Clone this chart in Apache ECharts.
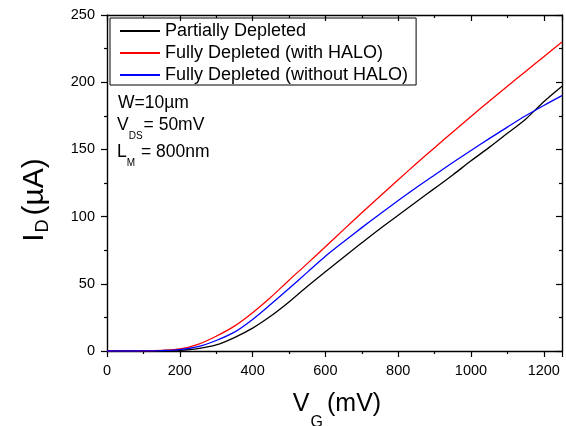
<!DOCTYPE html>
<html>
<head>
<meta charset="utf-8">
<script src="https://cdn.jsdelivr.net/npm/echarts@6/dist/echarts.min.js"></script>
<style>
  html, body { margin: 0; padding: 0; background: #fff; }
  #main { width: 566px; height: 426px; }
</style>
</head>
<body>
<div id="main"></div>
<script>
// gate voltage (mV)
var vg = [0, 50, 100, 150, 200, 250, 300, 350, 400, 450, 500, 550, 600,
          650, 700, 750, 800, 850, 900, 950, 1000, 1050, 1100, 1150, 1200, 1250];
// drain current (uA)
var idPartial = [0, 0, 0, 0.1, 0.5, 1.8, 4.5, 10, 17, 26, 36.5, 48, 59,
                 69.8, 80.5, 91, 101, 111, 121, 131, 141.5, 151.5, 162, 172.5, 185.5, 197];
var idWithHalo = [0, 0.05, 0.1, 0.5, 1.5, 5, 11, 18.5, 28.5, 40, 52.7, 65, 77.5,
                  90.3, 102.8, 115.2, 127.4, 139.5, 151.3, 163, 174.5, 185.8, 197, 208, 219, 230];
var idWithoutHalo = [0, 0, 0.05, 0.3, 1, 3.2, 7.8, 14, 23.5, 34.8, 46.5, 58.5, 70.5,
                     81.3, 91.8, 102, 112, 121.7, 131, 140.2, 149.2, 158, 166.6, 175, 182.7, 190];
var seriesNames = ['Partially Depleted', 'Fully Depleted (with HALO)', 'Fully Depleted (without HALO)'];
var seriesColors = ['#000000', '#ff0000', '#0000ff'];

var FONT = "'Liberation Sans', Arial, sans-serif";

function pairs(ys) {
    return vg.map(function (x, i) { return [x, ys[i]]; });
}

var myChart = echarts.init(document.getElementById('main'));

function axisX(pos, inside) {
    return {
        type: 'value', position: pos, min: 0, max: 1250, interval: 200,
        axisLine: { show: true, onZero: false, lineStyle: { color: '#000', width: 1.4 } },
        axisTick: { show: true, inside: inside, length: 6, lineStyle: { color: '#000', width: 1.2 } },
        minorTick: { show: true, splitNumber: 2, length: 3, lineStyle: { color: '#000', width: 1.2 } },
        axisLabel: {
            show: !inside, color: '#000', fontSize: 14.5, fontFamily: FONT, margin: 12,
            formatter: function (v) { return v % 200 === 0 ? String(v) : ''; }
        },
        splitLine: { show: false }
    };
}
function axisY(pos, inside) {
    return {
        type: 'value', position: pos, min: 0, max: 250, interval: 50,
        axisLine: { show: true, onZero: false, lineStyle: { color: '#000', width: 1.4 } },
        axisTick: { show: true, inside: inside, length: 6, lineStyle: { color: '#000', width: 1.2 } },
        minorTick: { show: true, splitNumber: 2, length: 3, lineStyle: { color: '#000', width: 1.2 } },
        axisLabel: { show: !inside, color: '#000', fontSize: 14.5, fontFamily: FONT, margin: 12 },
        splitLine: { show: false }
    };
}

var subRich = function (big, small, lh) {
    return {
        m: { fontSize: big, fontFamily: FONT, lineHeight: big },
        s: { fontSize: small, fontFamily: FONT, lineHeight: lh, verticalAlign: 'bottom', padding: [0, 1, 0, 0] }
    };
};

var option = {
    animation: false,
    backgroundColor: '#fff',
    grid: { left: 107, right: 4, top: 15, bottom: 75 },
    xAxis: [axisX('bottom', false), axisX('top', true)],
    yAxis: [axisY('left', false), axisY('right', true)],
    legend: {
        data: seriesNames,
        orient: 'vertical',
        left: 110, top: 18,
        padding: [4, 8, 1, 9],
        itemGap: 4,
        itemWidth: 40,
        itemHeight: 18,
        borderColor: '#000',
        borderWidth: 1,
        itemStyle: { opacity: 0 },
        textStyle: { color: '#000', fontSize: 18, fontFamily: FONT }
    },
    graphic: [
        {
            type: 'text', x: 118, y: 94,
            style: { text: 'W=10\u00b5m', font: '17.5px ' + FONT, fill: '#000', verticalAlign: 'top' }
        },
        {
            type: 'text', x: 117, y: 109,
            style: { text: '{m|V}{s|DS}{m|= 50mV}', fill: '#000', verticalAlign: 'top', rich: subRich(17.5, 10, 32) }
        },
        {
            type: 'text', x: 117, y: 136,
            style: { text: '{m|L}{s|M}{m| = 800nm}', fill: '#000', verticalAlign: 'top', rich: subRich(17.5, 10, 32) }
        },
        {
            type: 'text', x: 337, y: 377,
            style: {
                text: '{m|V}{s|G}{m|(mV)}', fill: '#000', align: 'center', verticalAlign: 'top',
                rich: {
                    m: { fontSize: 25, fontFamily: FONT, lineHeight: 25 },
                    s: { fontSize: 16, fontFamily: FONT, lineHeight: 54, verticalAlign: 'bottom', padding: [0, 4, 0, 1] }
                }
            }
        },
        {
            type: 'text', x: 18, y: 200, rotation: Math.PI / 2,
            style: {
                text: '{m|I}{s|D}{m|(\u00b5A)}', fill: '#000', align: 'center', verticalAlign: 'top',
                rich: {
                    m: { fontSize: 30, fontFamily: FONT, lineHeight: 30 },
                    s: { fontSize: 18, fontFamily: FONT, lineHeight: 34, verticalAlign: 'bottom', padding: [0, 4, 0, 1] }
                }
            }
        }
    ],
    series: [idPartial, idWithHalo, idWithoutHalo].map(function (ys, k) {
        return {
            name: seriesNames[k],
            type: 'line',
            xAxisIndex: 0, yAxisIndex: 0,
            data: pairs(ys),
            smooth: 0.3,
            symbol: 'none',
            color: seriesColors[k],
            lineStyle: { color: seriesColors[k], width: 1.3 }
        };
    })
};
myChart.setOption(option);
</script>
</body>
</html>
